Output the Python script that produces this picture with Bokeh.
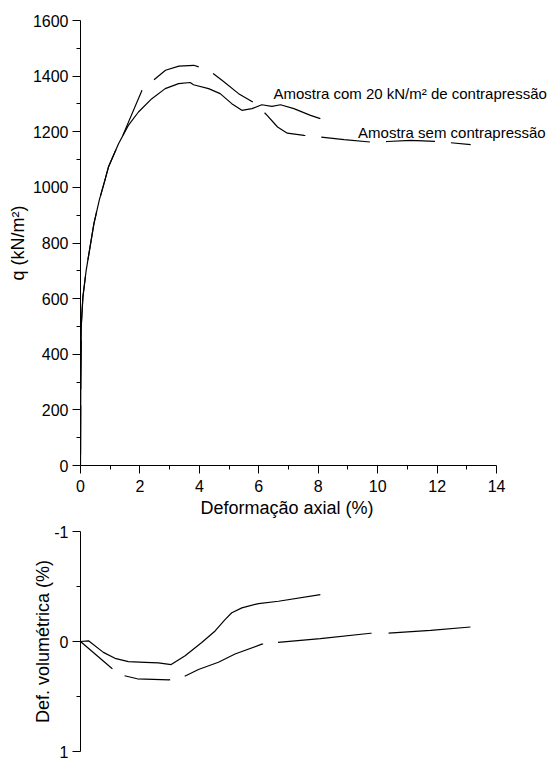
from bokeh.plotting import figure
from bokeh.layouts import column
from bokeh.models import Range1d, FixedTicker, Label, Title
from bokeh.embed import file_html
from bokeh.resources import INLINE

FONT = "Liberation Sans"

# ---- data: q vs axial strain ----
x_com_q = [0, 0.01, 0.03, 0.08, 0.19, 0.45, 0.63, 0.82, 0.94, 1.28, 1.61, 1.95, 2.40,
           2.85, 3.30, 3.69, 3.80, 4.31, 4.70, 5.09, 5.43, 5.77, 6.10, 6.44, 6.73,
           7.18, 7.74, 8.07]
q_com = [0, 300, 510, 605, 701, 869, 953, 1025, 1073, 1157, 1223, 1271, 1319,
         1355, 1373, 1377, 1369, 1355, 1337, 1301, 1277, 1283, 1297, 1291, 1297,
         1283, 1259, 1247]

x_sem_q = [0, 0.01, 0.03, 0.08, 0.19, 0.45, 0.63, 0.82, 0.94, 1.28, 1.40, 2.07, 2.47,
           2.86, 3.31, 3.81, 4.32, 4.76, 5.32, 5.89, 6.28, 6.63, 6.96, 7.52, 8.08,
           8.87, 9.76, 10.33, 11.11, 12.0, 13.13]
q_sem = [0, 300, 510, 605, 701, 869, 953, 1025, 1073, 1157, 1181, 1349, 1387,
         1421, 1436, 1439, 1421, 1385, 1337, 1301, 1259, 1217, 1195, 1187, 1181,
         1172, 1163, 1165, 1169, 1165, 1154]

# ---- data: volumetric strain vs axial strain ----
x_com_v = [0, 0.27, 0.77, 1.16, 1.61, 2.18, 2.62, 3.05, 3.52, 4.08, 4.53, 4.87,
           5.09, 5.43, 5.99, 6.66, 8.07]
v_com = [0, -0.006, 0.099, 0.153, 0.183, 0.189, 0.195, 0.21, 0.129, 0.009, -0.096,
         -0.201, -0.261, -0.306, -0.345, -0.366, -0.426]

x_sem_v = [0, 1.05, 1.45, 1.91, 2.98, 3.45, 3.97, 4.64, 5.2, 6.1, 6.62, 8.07, 9.76,
           10.32, 11.78, 13.12]
v_sem = [0, 0.243, 0.309, 0.339, 0.349, 0.324, 0.255, 0.189, 0.114, 0.024, 0.009,
         -0.027, -0.075, -0.075, -0.102, -0.132]

x_ticks = [0, 2, 4, 6, 8, 10, 12, 14]
x_minor = [1, 3, 5, 7, 9, 11, 13]
q_ticks = [0, 200, 400, 600, 800, 1000, 1200, 1400, 1600]
q_minor = [100, 300, 500, 700, 900, 1100, 1300, 1500]
v_ticks = [-1, 0, 1]
v_minor = [-0.5, 0.5]

x_title = "Deformação axial (%)"
label_com = "Amostra com 20 kN/m² de contrapressão"
label_sem = "Amostra sem contrapressão"
label_com_pos = (6.49, 1336)
label_sem_pos = (9.34, 1198)

X_END = 16.05  # frame runs to the right edge so annotations are not clipped


def style_axis(ax, tick_size="16px", label_size="18px"):
    ax.axis_line_color = "black"
    ax.axis_line_width = 1
    ax.major_tick_line_color = "black"
    ax.minor_tick_line_color = "black"
    ax.major_tick_out = 8
    ax.major_tick_in = 0
    ax.minor_tick_out = 4
    ax.minor_tick_in = 0
    ax.major_label_text_font = FONT
    ax.major_label_text_font_size = tick_size
    ax.major_label_text_color = "black"
    ax.axis_label_text_font = FONT
    ax.axis_label_text_font_size = label_size
    ax.axis_label_text_font_style = "normal"
    ax.axis_label_text_color = "black"


top = figure(width=557, height=525, x_range=Range1d(0, X_END), y_range=Range1d(0, 1600),
             output_backend="svg", toolbar_location=None,
             min_border_left=80, min_border_right=0, min_border_top=20,
             min_border_bottom=60)
top.grid.visible = False
top.outline_line_color = None
top.xaxis.ticker = FixedTicker(ticks=x_ticks, minor_ticks=x_minor)
top.xaxis.bounds = (0, 14)
top.yaxis.ticker = FixedTicker(ticks=q_ticks, minor_ticks=q_minor)
top.yaxis.axis_label = "q (kN/m²)"
style_axis(top.xaxis[0])
style_axis(top.yaxis[0])
top.xaxis.major_label_standoff = 6
top.yaxis.major_label_standoff = 4
top.yaxis.axis_label_standoff = 2

# x-axis title, centred under the 0..14 span of the axis
top.add_layout(Title(text=x_title, align="left", offset=120, standoff=2,
                     text_font=FONT, text_font_size="18px", text_font_style="normal",
                     text_color="black"), "below")

top.line(x_com_q, q_com, line_color="black", line_width=1.2)
top.line(x_sem_q, q_sem, line_color="black", line_width=1.2,
         line_dash="49 16", line_dash_offset=54)

top.add_layout(Label(x=label_com_pos[0], y=label_com_pos[1], text=label_com,
                     text_font=FONT, text_font_size="15px", text_color="black",
                     text_baseline="alphabetic", text_align="left"))
top.add_layout(Label(x=label_sem_pos[0], y=label_sem_pos[1], text=label_sem,
                     text_font=FONT, text_font_size="15px", text_color="black",
                     text_baseline="alphabetic", text_align="left"))

bot = figure(width=557, height=235, x_range=Range1d(0, X_END), y_range=Range1d(1, -1),
             output_backend="svg", toolbar_location=None, x_axis_location=None,
             min_border_left=80, min_border_right=0, min_border_top=6,
             min_border_bottom=9)
bot.grid.visible = False
bot.outline_line_color = None
bot.yaxis.ticker = FixedTicker(ticks=v_ticks, minor_ticks=v_minor)
bot.yaxis.major_label_overrides = {-1: "-1", 0: "0", 1: "1"}
bot.yaxis.axis_label = "Def. volumétrica (%)"
style_axis(bot.yaxis[0])
bot.yaxis.major_label_standoff = 4
bot.yaxis.axis_label_standoff = -2

bot.line(x_com_v, v_com, line_color="black", line_width=1.2)
bot.line(x_sem_v, v_sem, line_color="black", line_width=1.2,
         line_dash="42 14 46 15 85 15 94 17 84 200")

layout = column(top, bot)
open("out.html", "w").write(file_html(layout, INLINE))
